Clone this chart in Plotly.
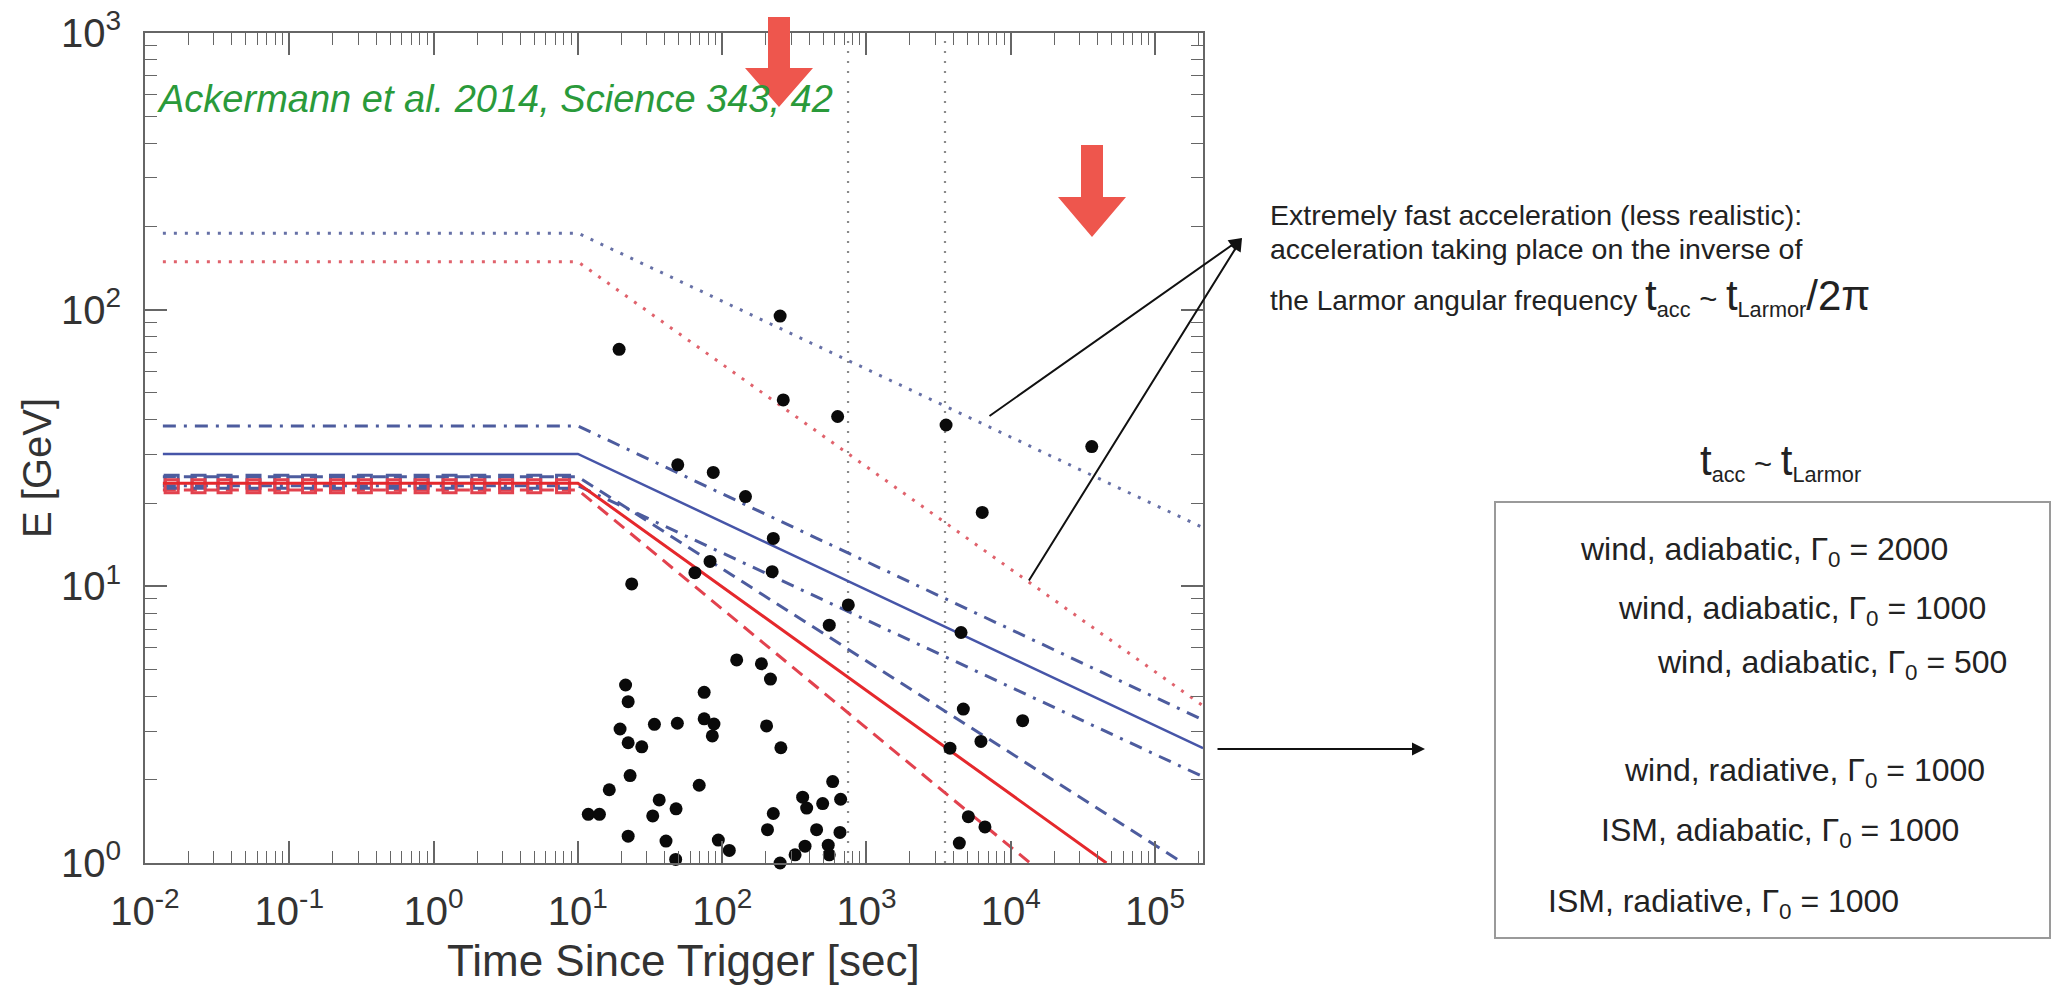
import plotly.graph_objects as go

# ---------------- data ----------------
DOT_T = [19.3, 252, 265, 631, 49.2, 86.7, 145, 226, 82.4, 222, 3560, 36400, 6340,
         23.6, 64.7, 126, 187, 216, 21.4, 22.3, 75, 19.6, 33.9, 48.9, 75, 87.7, 85.4,
         22.3, 27.7, 203, 255, 23, 16.5, 69.3, 11.8, 14.1, 36.6, 33, 47.9, 22.3, 40.8,
         47.6, 94, 112, 226, 206, 252, 320, 375, 361, 385, 451,
         748, 552, 4520, 4690, 12080, 6210, 3790, 5080, 6620, 4400, 583, 497, 662, 655,
         543, 552]
DOT_E = [71.9, 94.8, 47.2, 41.1, 27.5, 25.8, 21.1, 14.9, 12.3, 11.3, 38.3, 32.0, 18.5,
         10.2, 11.2, 5.42, 5.25, 4.62, 4.40, 3.83, 4.14, 3.05, 3.17, 3.20, 3.32, 3.18, 2.88,
         2.72, 2.63, 3.13, 2.61, 2.07, 1.84, 1.91, 1.50, 1.50, 1.69, 1.48, 1.57, 1.25, 1.20,
         1.03, 1.21, 1.11, 1.51, 1.32, 1.0, 1.07, 1.15, 1.73, 1.58, 1.32,
         8.57, 7.24, 6.81, 3.60, 3.27, 2.75, 2.60, 1.47, 1.35, 1.18, 1.97, 1.64, 1.70, 1.29,
         1.16, 1.07]

# model curves: start, break (t = 10 s), end
LARMOR2PI_WIND_T = [0.0133, 10, 2.15e5]
LARMOR2PI_WIND_E = [189, 189, 16.3]
LARMOR2PI_ISM_T = [0.0133, 10, 2.15e5]
LARMOR2PI_ISM_E = [149, 149, 3.7]
WIND_AD_2000_T = [0.0133, 10, 2.15e5]
WIND_AD_2000_E = [38.0, 38.0, 3.29]
WIND_AD_1000_T = [0.0133, 10, 2.15e5]
WIND_AD_1000_E = [30.1, 30.1, 2.60]
WIND_AD_500_T = [0.0133, 10, 2.15e5]
WIND_AD_500_E = [23.1, 23.1, 2.05]
WIND_RAD_T = [0.0133, 10, 1.56e5]
WIND_RAD_E = [24.9, 24.9, 1.0]
ISM_AD_T = [0.0133, 10, 4.6e4]
ISM_AD_E = [23.6, 23.6, 1.0]
ISM_RAD_T = [0.0133, 10, 1.36e4]
ISM_RAD_E = [22.3, 22.3, 1.0]

SQUARE_T = [0.0153, 0.0235, 0.0356, 0.0565, 0.0881, 0.137, 0.214, 0.334, 0.530,
            0.826, 1.29, 2.04, 3.18, 4.98, 7.89]
SQUARE_E_BLUE = [23.9] * len(SQUARE_T)
SQUARE_E_RED = [23.0] * len(SQUARE_T)

VLINE_T = [745, 3500]
VLINE_E = [1, 1000]

X_TICKS = [1e-2, 1e-1, 1e0, 1e1, 1e2, 1e3, 1e4, 1e5]
X_TICKTEXT = ["10<sup>-2</sup>", "10<sup>-1</sup>", "10<sup>0</sup>", "10<sup>1</sup>",
              "10<sup>2</sup>", "10<sup>3</sup>", "10<sup>4</sup>", "10<sup>5</sup>"]
Y_TICKS = [1, 10, 100, 1000]
Y_TICKTEXT = ["10<sup>0</sup>", "10<sup>1</sup>", "10<sup>2</sup>", "10<sup>3</sup>"]
X_MINOR = [k * 10.0 ** d for d in range(-2, 6) for k in range(2, 10)]
Y_MINOR = [k * 10.0 ** d for d in range(0, 3) for k in range(2, 10)]

# ---------------- layout geometry (pixels) ----------------
W, H = 2066, 989
L, R, T, B = 145, 1203, 33, 863
PW, PH = R - L, B - T


def px(x):
    return (x - L) / PW


def py(y):
    return (B - y) / PH


FONT = "Liberation Sans, Arial, Helvetica, sans-serif"
BLUE = "#4655a8"
BLUE_D = "#4d5c9e"
BLUE_DOT = "#6670a6"
RED = "#e5282c"
RED_D = "#e2424e"
RED_DOT = "#e0626c"

fig = go.Figure()


def line(xs, ys, color, width, dash):
    fig.add_trace(go.Scatter(x=xs, y=ys, mode="lines", hoverinfo="skip",
                             line=dict(color=color, width=width, dash=dash),
                             showlegend=False))


for t in VLINE_T:
    line([t, t], VLINE_E, "#8a8a8a", 2.2, "2px,8px")

line(LARMOR2PI_WIND_T, LARMOR2PI_WIND_E, BLUE_DOT, 3, "3px,8px")
line(LARMOR2PI_ISM_T, LARMOR2PI_ISM_E, RED_DOT, 3, "3px,8px")
line(WIND_AD_2000_T, WIND_AD_2000_E, BLUE_D, 3, "13px,8px,3px,8px")
line(WIND_AD_1000_T, WIND_AD_1000_E, BLUE, 2.5, "solid")
line(WIND_AD_500_T, WIND_AD_500_E, BLUE_D, 3, "13px,8px,3px,8px")
line(WIND_RAD_T, WIND_RAD_E, BLUE_D, 3, "13px,8px")
line(ISM_RAD_T, ISM_RAD_E, RED_D, 3, "13px,8px")

fig.add_trace(go.Scatter(x=SQUARE_T, y=SQUARE_E_BLUE, mode="markers", hoverinfo="skip",
                         marker=dict(symbol="square-open", size=13, color=BLUE_D,
                                     line=dict(width=3, color=BLUE_D)),
                         showlegend=False))
fig.add_trace(go.Scatter(x=SQUARE_T, y=SQUARE_E_RED, mode="markers", hoverinfo="skip",
                         marker=dict(symbol="square-open", size=13, color=RED_D,
                                     line=dict(width=3, color=RED_D)),
                         showlegend=False))
line(ISM_AD_T, ISM_AD_E, RED, 3, "solid")

fig.add_trace(go.Scatter(x=DOT_T, y=DOT_E, mode="markers", hoverinfo="skip",
                         marker=dict(size=13, color="#0a0a0a"), cliponaxis=False,
                         showlegend=False))

axis_common = dict(
    type="log", showline=True, linecolor="#666666", linewidth=2, mirror="allticks",
    ticks="inside", ticklen=22, tickwidth=1.6, tickcolor="#666666",
    showgrid=False, zeroline=False, automargin=False,
    tickfont=dict(family=FONT, size=40, color="#333333"),
    tickmode="array",
    minor=dict(ticks="inside", ticklen=12, tickwidth=1.4, tickcolor="#666666",
               showgrid=False, tickmode="array"),
)

fig.update_layout(
    width=W, height=H,
    margin=dict(l=L, r=W - R, t=T, b=H - B, autoexpand=False),
    paper_bgcolor="white", plot_bgcolor="white", showlegend=False,
    xaxis=dict(axis_common, range=[-2, 5.332], tickvals=X_TICKS, ticktext=X_TICKTEXT,
               ticklabelstandoff=12),
    yaxis=dict(axis_common, range=[0, 3], tickvals=Y_TICKS, ticktext=Y_TICKTEXT,
               ticklabelstandoff=14),
)
fig.update_xaxes(minor_tickvals=X_MINOR)
fig.update_yaxes(minor_tickvals=Y_MINOR)

ann = []


def text(x, y, s, size, color="#222222", anchor="left", italic=False, angle=0):
    ann.append(dict(xref="paper", yref="paper", x=px(x), y=py(y), text=s,
                    showarrow=False, xanchor=anchor, yanchor="middle", textangle=angle,
                    font=dict(family=FONT, size=size, color=color,
                              style="italic" if italic else "normal")))


# axis titles
text(683, 960, "Time Since Trigger [sec]", 44, "#333333", "center")
text(37, 468, "E [GeV]", 40, "#333333", "center", angle=-90)

# green reference
text(155, 99, "Ackermann et al. 2014, Science 343, 42", 38, "#2a9a3a", "left", italic=True)

# explanatory text
BIG = "<span style='font-size:42px'>"
SMALL = "<span style='font-size:28px'>"
text(1268, 215, "Extremely fast acceleration (less realistic):", 28.5)
text(1268, 249, "acceleration taking place on the inverse of", 28.5)
text(1268, 297, SMALL + "the Larmor angular frequency </span>" + BIG + "t</span><sub>acc</sub> ~ "
     + BIG + "t</span><sub>Larmor</sub>" + BIG + "/2π</span>", 31)
text(1780, 462, BIG + "t</span><sub>acc</sub> ~ " + BIG + "t</span><sub>Larmor</sub>", 31,
     anchor="center")

# legend box text
LEGEND = [
    (1578, 551, "wind, adiabatic, Γ<sub>0</sub> = 2000"),
    (1616, 610, "wind, adiabatic, Γ<sub>0</sub> = 1000"),
    (1655, 664, "wind, adiabatic, Γ<sub>0</sub> = 500"),
    (1622, 772, "wind, radiative, Γ<sub>0</sub> = 1000"),
    (1599, 832, "ISM, adiabatic, Γ<sub>0</sub> = 1000"),
    (1546, 903, "ISM, radiative, Γ<sub>0</sub> = 1000"),
]
for lx, ly, s in LEGEND:
    text(lx, ly, s, 32)

# black arrows
for (hx, hy, tx, ty) in [(1242, 238, 988, 417), (1242, 238, 1028, 582), (1425, 749, 1216, 749)]:
    ann.append(dict(xref="paper", yref="paper", x=px(hx), y=py(hy), ax=tx - hx, ay=ty - hy,
                    axref="pixel", ayref="pixel", text="", showarrow=True, arrowhead=2,
                    arrowsize=1.3, arrowwidth=2, arrowcolor="#111111", standoff=0))

fig.update_layout(annotations=ann)

# shapes: legend box and red block arrows
shapes = [dict(type="rect", xref="paper", yref="paper", x0=px(1495), x1=px(2050),
               y0=py(502), y1=py(938), line=dict(color="#9a9a9a", width=2), layer="above")]


def block_arrow(cx, top, head_top, tip, half_shaft, half_head):
    pts = [(cx - half_shaft, top), (cx + half_shaft, top), (cx + half_shaft, head_top),
           (cx + half_head, head_top), (cx, tip), (cx - half_head, head_top),
           (cx - half_shaft, head_top)]
    path = "M " + " L ".join(f"{px(x):.5f},{py(y):.5f}" for x, y in pts) + " Z"
    return dict(type="path", xref="paper", yref="paper", path=path,
                fillcolor="#ee564d", line=dict(width=0), layer="above")


shapes.append(block_arrow(779, 17, 68, 107, 11, 34))
shapes.append(block_arrow(1092, 145, 197, 237, 11, 34))
fig.update_layout(shapes=shapes)

fig.write_html("out.html")
